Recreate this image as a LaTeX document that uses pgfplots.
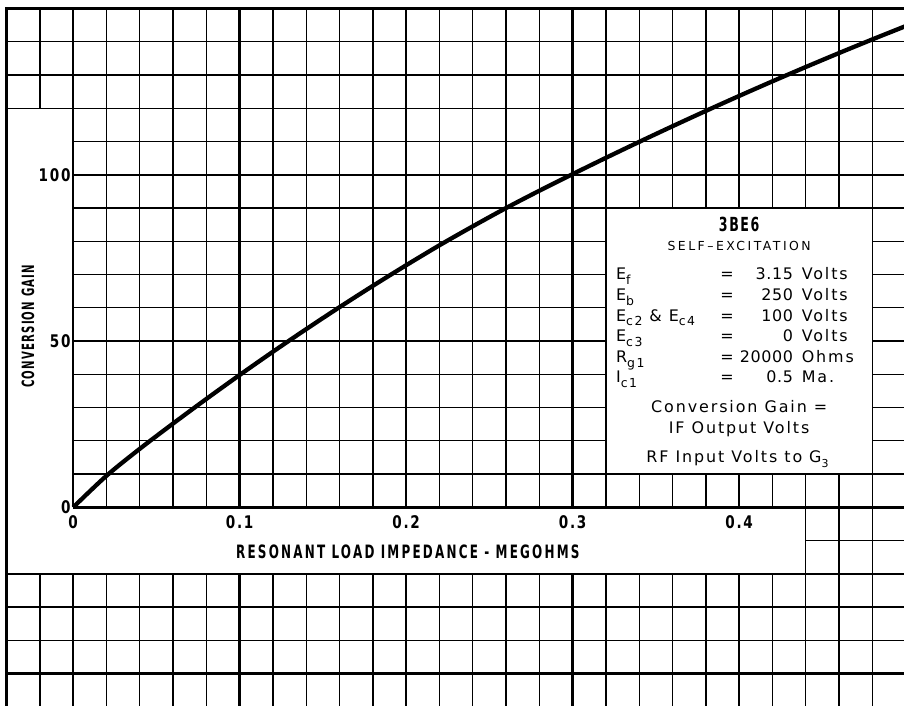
\documentclass[border=0pt]{standalone}
\usepackage{pgfplots}
\pgfplotsset{compat=1.18}
\usepackage{fontspec}
\setmainfont{DejaVu Sans}
\newfontfamily\labfont[FakeStretch=0.65,LetterSpace=8]{DejaVu Sans}
\newfontfamily\ylabfont[FakeStretch=0.6,LetterSpace=7]{DejaVu Sans}
\newfontfamily\xlabfont[FakeStretch=0.65,LetterSpace=12]{DejaVu Sans}
\newfontfamily\tickfont[FakeStretch=0.78,LetterSpace=10]{DejaVu Sans}
\newfontfamily\boxfont[LetterSpace=12]{DejaVu Sans}
\newfontfamily\numfont[LetterSpace=4]{DejaVu Sans}
\newfontfamily\spacedfont[LetterSpace=20]{DejaVu Sans}
\newcommand\sbs[1]{\raisebox{-0.55ex}{\fontsize{12.5}{12.5}\selectfont #1}}
\pgfplotstableread{
x y
0.00 0
0.02 9.5
0.04 17.6
0.06 25.2
0.08 32.6
0.10 39.8
0.12 46.8
0.14 53.6
0.16 60.2
0.18 66.6
0.20 72.8
0.22 78.8
0.24 84.5
0.26 90.0
0.28 95.2
0.30 100.2
0.32 105.1
0.34 109.9
0.36 114.6
0.38 119.2
0.40 123.7
0.42 128.1
0.44 132.4
0.46 136.6
0.48 140.7
0.50 144.7
}\gaindata
\begin{document}
\begin{tikzpicture}
\begin{axis}[
  set layers,
  scale only axis, width=898.4bp, height=698bp,
  xmin=-0.04, xmax=0.4989, ymin=-59.6, ymax=150,
  axis x line*=middle, axis y line*=middle,
  axis line style={draw=none},
  xtick={0,0.1,0.2,0.3,0.4}, xticklabels={0,0.1,0.2,0.3,0.4},
  ytick={-50,0,50,100}, yticklabels={,0,50,100},
  minor xtick={-0.02,0.02,0.04,0.06,0.08,0.12,0.14,0.16,0.18,0.22,0.24,0.26,0.28,0.32,0.34,0.36,0.38,0.42,0.44,0.46,0.48},
  minor ytick={-40,-30,-20,-10,10,20,30,40,60,70,80,90,110,120,130,140},
  grid=both,
  major grid style={line width=2.4bp, black},
  minor grid style={line width=1.3bp, black},
  major tick length=0pt, minor tick length=0pt,
  hide obscured x ticks=false, hide obscured y ticks=false,
  tick label style={font=\tickfont\bfseries\fontsize{17.5}{17.5}\selectfont, inner sep=0pt},
  xticklabel style={anchor=north, yshift=-8bp},
  yticklabel style={anchor=east, xshift=-2.5bp},
  every axis x label/.style={at={(axis description cs:0.4472,0.22)}, anchor=center, font=\xlabfont\bfseries\fontsize{18.5}{18.5}\selectfont},
  every axis y label/.style={at={(axis description cs:0.0238,0.544)}, anchor=center, rotate=90, font=\ylabfont\bfseries\fontsize{17}{17}\selectfont},
  xlabel={RESONANT LOAD IMPEDANCE - MEGOHMS},
  ylabel={CONVERSION GAIN},
]
\begin{pgfonlayer}{axis ticks}
  \fill[white] (axis cs:-0.04,-20) rectangle (axis cs:0,120);
  \fill[white] (axis cs:0,-20) rectangle (axis cs:0.44,0);
  \fill[white] (axis cs:0.32,10) rectangle (axis cs:0.48,90);
  \draw[line width=1.3bp] (axis cs:-0.04,120) -- (axis cs:0,120);
  \draw[line width=1.3bp] (axis cs:-0.04,-20) -- (axis cs:0.4989,-20);
  \draw[line width=1.3bp] (axis cs:0.44,-20) -- (axis cs:0.44,0);
  \draw[line width=2.4bp] (axis cs:0,0) -- (axis cs:0,150);
  \draw[line width=2.4bp] (axis cs:0,0) -- (axis cs:0.4989,0);
  \draw[line width=1.3bp] (axis cs:0.32,10) rectangle (axis cs:0.48,90);
  \draw[line width=2.6bp] (axis cs:-0.04,-59.6) -- (axis cs:-0.04,150) -- (axis cs:0.4989,150);
\end{pgfonlayer}
\addplot[line width=4.3bp, black, smooth] table[x=x, y=y] {\gaindata};
\node[font=\labfont\bfseries\fontsize{19.5}{19.5}\selectfont, anchor=base] at (axis cs:0.4,82.9) {3BE6};
\node[font=\spacedfont\fontsize{12.5}{12.5}\selectfont, anchor=base] at (axis cs:0.4,77.3) {SELF\textendash EXCITATION};
\begin{scope}[every node/.style={font=\boxfont\fontsize{16}{16}\selectfont, inner sep=0pt}]
\node[anchor=base west] at (axis cs:0.326,68.5) {E\sbs{f}};
\node[anchor=base west] at (axis cs:0.326,62.2) {E\sbs{b}};
\node[anchor=base west] at (axis cs:0.326,56.0) {E\sbs{c2} \& E\sbs{c4}};
\node[anchor=base west] at (axis cs:0.326,49.8) {E\sbs{c3}};
\node[anchor=base west] at (axis cs:0.326,43.6) {R\sbs{g1}};
\node[anchor=base west] at (axis cs:0.326,37.4) {I\sbs{c1}};
\node[anchor=base] at (axis cs:0.3927,68.5) {=};
\node[anchor=base] at (axis cs:0.3927,62.2) {=};
\node[anchor=base] at (axis cs:0.3927,56.0) {=};
\node[anchor=base] at (axis cs:0.3927,49.8) {=};
\node[anchor=base] at (axis cs:0.3927,43.6) {=};
\node[anchor=base] at (axis cs:0.3927,37.4) {=};
\node[anchor=base east, font=\numfont\fontsize{16}{16}\selectfont] at (axis cs:0.4325,68.5) {3.15};
\node[anchor=base east, font=\numfont\fontsize{16}{16}\selectfont] at (axis cs:0.4325,62.2) {250};
\node[anchor=base east, font=\numfont\fontsize{16}{16}\selectfont] at (axis cs:0.4325,56.0) {100};
\node[anchor=base east, font=\numfont\fontsize{16}{16}\selectfont] at (axis cs:0.4325,49.8) {0};
\node[anchor=base east, font=\numfont\fontsize{16}{16}\selectfont] at (axis cs:0.4325,43.6) {20000};
\node[anchor=base east, font=\numfont\fontsize{16}{16}\selectfont] at (axis cs:0.4325,37.4) {0.5};
\node[anchor=base west] at (axis cs:0.4375,68.5) {Volts};
\node[anchor=base west] at (axis cs:0.4375,62.2) {Volts};
\node[anchor=base west] at (axis cs:0.4375,56.0) {Volts};
\node[anchor=base west] at (axis cs:0.4375,49.8) {Volts};
\node[anchor=base west] at (axis cs:0.4375,43.6) {Ohms};
\node[anchor=base west] at (axis cs:0.4375,37.4) {Ma.};
\node[anchor=base] at (axis cs:0.4,28.5) {Conversion Gain =};
\node[anchor=base] at (axis cs:0.4,22.2) {IF Output Volts};
\node[anchor=base] at (axis cs:0.399,13.5) {RF Input Volts to G\raisebox{-0.6ex}{\fontsize{11}{11}\selectfont 3}};
\end{scope}
\coordinate (tl) at (axis cs:-0.04,150);
\end{axis}
\path (tl) ++(-6.6bp,8.5bp);
\end{tikzpicture}
\end{document}
